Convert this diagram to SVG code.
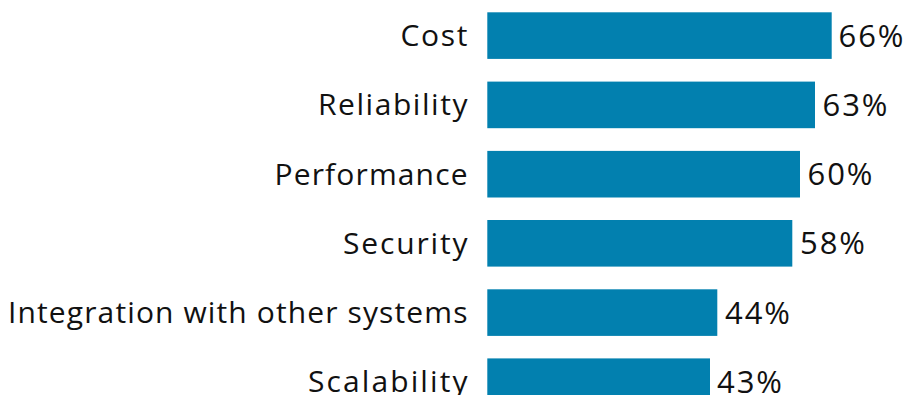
<svg xmlns="http://www.w3.org/2000/svg" width="907" height="395" viewBox="0 0 907 395">
  <style>
    .bar { fill: #0280AF; }
    .lbl { font-family: "Open Sans", "Liberation Sans", Arial, sans-serif; font-size: 30px; fill: #111111; text-anchor: end; }
    .val { font-family: "Open Sans", "Liberation Sans", Arial, sans-serif; font-size: 31px; fill: #111111; }
  </style>
  <rect x="0" y="0" width="907" height="395" fill="#ffffff"/>
  <g id="row-cost">
    <rect class="bar" x="487.3" y="12.3" width="344.4" height="46.6"/>
    <text class="lbl" x="467.5" y="46" textLength="67" lengthAdjust="spacing">Cost</text>
    <text class="val" x="838.5" y="46.5" textLength="65" lengthAdjust="spacing">66%</text>
  </g>
  <g id="row-reliability">
    <rect class="bar" x="487.3" y="81.6" width="327.7" height="46.6"/>
    <text class="lbl" x="467.5" y="115.3" textLength="149.5" lengthAdjust="spacing">Reliability</text>
    <text class="val" x="822.5" y="115.8" textLength="65" lengthAdjust="spacing">63%</text>
  </g>
  <g id="row-performance">
    <rect class="bar" x="487.3" y="150.9" width="312.7" height="46.6"/>
    <text class="lbl" x="467.5" y="184.5" textLength="193" lengthAdjust="spacing">Performance</text>
    <text class="val" x="807.5" y="185" textLength="65" lengthAdjust="spacing">60%</text>
  </g>
  <g id="row-security">
    <rect class="bar" x="487.3" y="220" width="305" height="46.6"/>
    <text class="lbl" x="467.5" y="253.8" textLength="124.5" lengthAdjust="spacing">Security</text>
    <text class="val" x="800" y="254.3" textLength="65" lengthAdjust="spacing">58%</text>
  </g>
  <g id="row-integration">
    <rect class="bar" x="487.3" y="289.3" width="230" height="46.6"/>
    <text class="lbl" x="467.5" y="323" textLength="459.5" lengthAdjust="spacing">Integration with other systems</text>
    <text class="val" x="725" y="323.5" textLength="65" lengthAdjust="spacing">44%</text>
  </g>
  <g id="row-scalability">
    <rect class="bar" x="487.3" y="358.4" width="222.7" height="46.6"/>
    <text class="lbl" x="467.5" y="392.2" textLength="159.5" lengthAdjust="spacing">Scalability</text>
    <text class="val" x="717" y="392.7" textLength="65" lengthAdjust="spacing">43%</text>
  </g>
  <g id="connectors"/>
</svg>
